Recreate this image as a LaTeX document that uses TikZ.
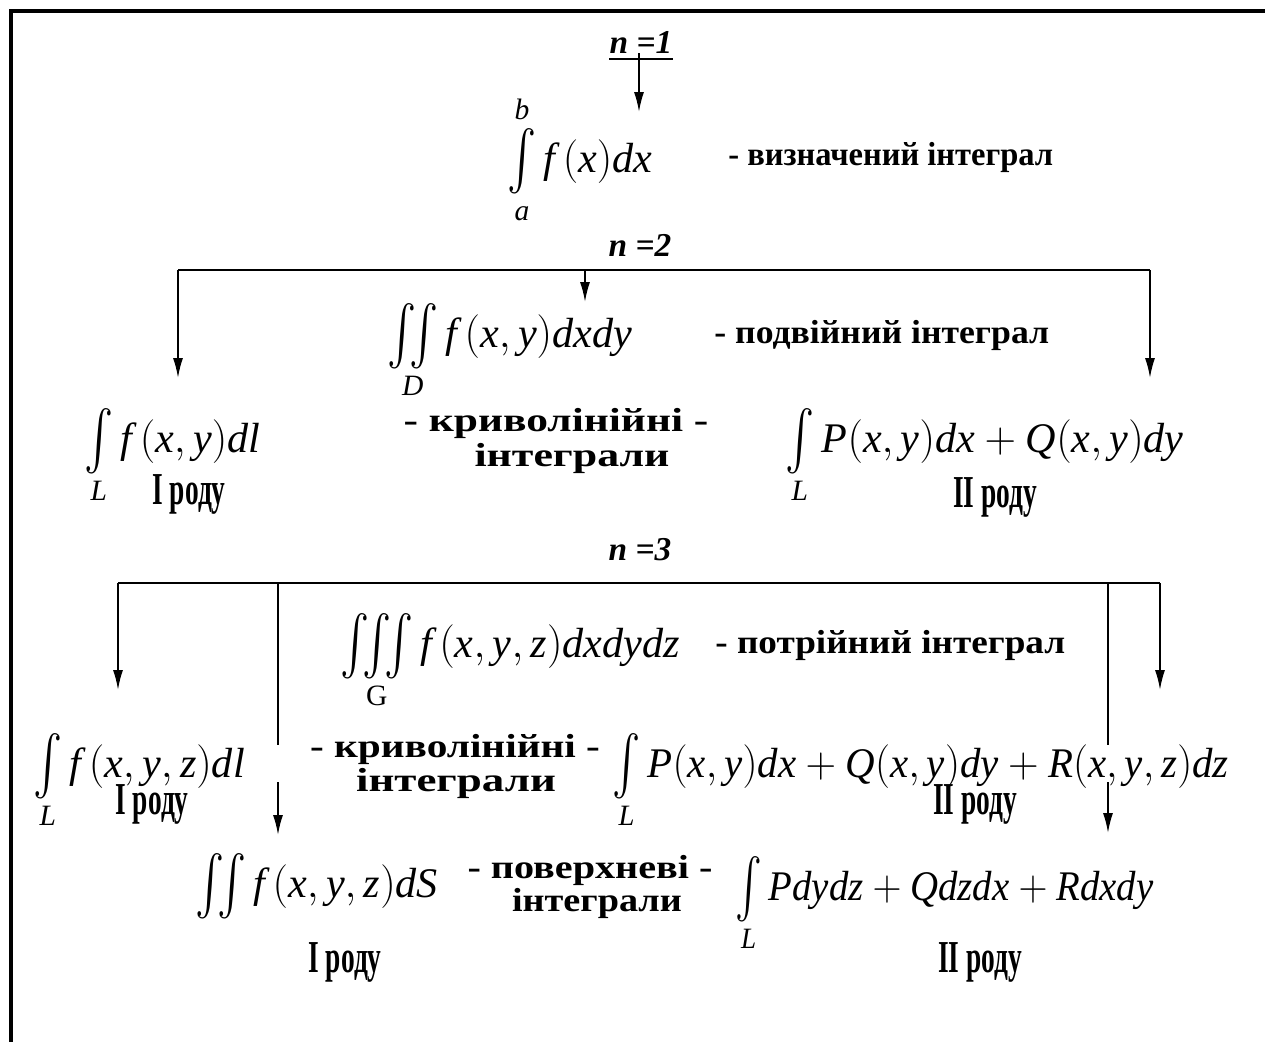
\documentclass[tikz,border=0pt]{standalone}
\usepackage{fontspec}
\setmainfont{Liberation Serif}
\usepackage{amsmath}
\usetikzlibrary{arrows.meta,positioning}
% taller integral signs, limits below and above
\newcommand{\bigop}[1]{\mathop{\vcenter{\hbox{\scalebox{1}[1.35]{$#1$}}}}\limits}
% bold caption squeezed or stretched to a given width
\newcommand{\fitw}[2]{\resizebox{#1}{\height}{#2}}

\begin{document}
\begin{tikzpicture}[x=0.02cm,y=-0.02cm,
  formula/.style={inner sep=0pt,anchor=base west,font=\fontsize{24}{28}\selectfont},
  kind/.style={inner sep=0pt,anchor=base,font=\bfseries\fontsize{19}{20}\selectfont},
  order/.style={inner sep=0pt,font=\bfseries\fontsize{26}{28}\selectfont},
  nlab/.style={inner sep=0pt,font=\bfseries\itshape\fontsize{19}{20}\selectfont},
  bus/.style={line width=1pt},
  arr/.style={-{Latex[length=4mm,width=2mm]},line width=1pt}]
\useasboundingbox (0,0) rectangle (1265,1042);
\draw[line width=1.8pt] (1265,11) -- (11,11) -- (11,1042);

% n = 1
\node[nlab] (n1) at (641,42) {n =1};
\draw[bus] ([yshift=-3pt]n1.south west) -- ([yshift=-3pt]n1.south east);
\node[formula] (i1) at (507,172) {$\bigop{\int}_{\mathit{a}}^{\mathit{b}} \mathit{f\,(x)dx}$};
\node[kind,anchor=base west] (d1) at (728,165) {\fitw{6.5cm}{- визначений інтеграл}};
\coordinate (tip1) at (639,112);
\draw[arr] (n1.south -| tip1) -- (tip1);

% n = 2
\node[nlab] (n2) at (640,245) {n =2};
\coordinate (bus2w) at (178,270);
\coordinate (bus2e) at (1150,270);
\draw[bus] (bus2w) -- (bus2e);
\node[formula] (i2) at (387,347) {$\bigop{\iint}_{\mathit{D}} \mathit{f\,(x,y)dxdy}$};
\node[kind,anchor=base west] (d2) at (714,343) {\fitw{6.7cm}{- подвійний інтеграл}};
\coordinate (tip2w) at (178,378);
\coordinate (tip2c) at (585,302);
\coordinate (tip2e) at (1150,378);
\draw[arr] (bus2w) -- (tip2w);
\draw[arr] (tip2c |- bus2w) -- (tip2c);
\draw[arr] (bus2e) -- (tip2e);

\node[formula] (c2a) at (84,452) {$\bigop{\int}_{\mathit{L}} \mathit{f\,(x,y)dl}$};
\node[order] (c2a1) at (189,494) {\scalebox{0.6}[1]{I роду}};
\node[kind] (c2t) at (556,431) {\fitw{6.1cm}{- криволінійні -}};
\node[kind] (c2u) at (572,466) {\fitw{3.9cm}{інтеграли}};
\node[formula] (c2b) at (785,452) {$\bigop{\int}_{\mathit{L}} \mathit{P(x,y)dx}+\mathit{Q(x,y)dy}$};
\node[order] (c2b1) at (995,497) {\scalebox{0.6}[1]{II роду}};

% n = 3
\node[nlab] (n3) at (640,550) {n =3};
\coordinate (bus3w) at (118,583);
\coordinate (bus3e) at (1160,583);
\draw[bus] (bus3w) -- (bus3e);
\node[formula] (i3) at (340,657) {$\bigop{\iiint}_{\mathrm{G}} \mathit{f\,(x,y,z)dxdydz}$};
\node[kind,anchor=base west] (d3) at (715,653) {\fitw{7cm}{- потрійний інтеграл}};
\coordinate (tip3w) at (118,690);
\coordinate (tip3e) at (1160,690);
\coordinate (stop3a) at (278,745);
\coordinate (stop3b) at (1108,745);
\draw[arr] (bus3w) -- (tip3w);
\draw[arr] (bus3e) -- (tip3e);
\draw[bus] (stop3a |- bus3w) -- (stop3a);
\draw[bus] (stop3b |- bus3w) -- (stop3b);

\node[formula] (c3a) at (33,777) {$\bigop{\int}_{\mathit{L}} \mathit{f\,(x,y,z)dl}$};
\node[order] (c3a1) at (152,804) {\scalebox{0.6}[1]{I роду}};
\node[kind] (c3t) at (455,757) {\fitw{5.8cm}{- криволінійні -}};
\node[kind] (c3u) at (456,791) {\fitw{4cm}{інтеграли}};
\node[formula] (c3b) at (612,777) {\scalebox{0.97}[1]{$\bigop{\int}_{\mathit{L}} \mathit{P(x,y)dx}+\mathit{Q(x,y)dy}+\mathit{R(x,y,z)dz}$}};
\node[order] (c3b1) at (975,804) {\scalebox{0.6}[1]{II роду}};

\coordinate (from4a) at (278,782);
\coordinate (from4b) at (1108,782);
\coordinate (tip4a) at (278,835);
\coordinate (tip4b) at (1108,833);
\draw[arr] (from4a) -- (tip4a);
\draw[arr] (from4b) -- (tip4b);

\node[formula] (s4a) at (195,897) {$\bigop{\iint}_{\mathit{\Phi}} \mathit{f\,(x,y,z)dS}$};
\node[order] (s4a1) at (345,962) {\scalebox{0.6}[1]{I роду}};
\node[kind] (s4t) at (590,878) {\fitw{4.9cm}{- поверхневі -}};
\node[kind] (s4u) at (597,911) {\fitw{3.4cm}{інтеграли}};
\node[formula] (s4b) at (735,900) {\scalebox{0.92}[1]{$\bigop{\int}_{\mathit{L}} \mathit{Pdydz}+\mathit{Qdzdx}+\mathit{Rdxdy}$}};
\node[order] (s4b1) at (980,962) {\scalebox{0.6}[1]{II роду}};
\end{tikzpicture}
\end{document}
